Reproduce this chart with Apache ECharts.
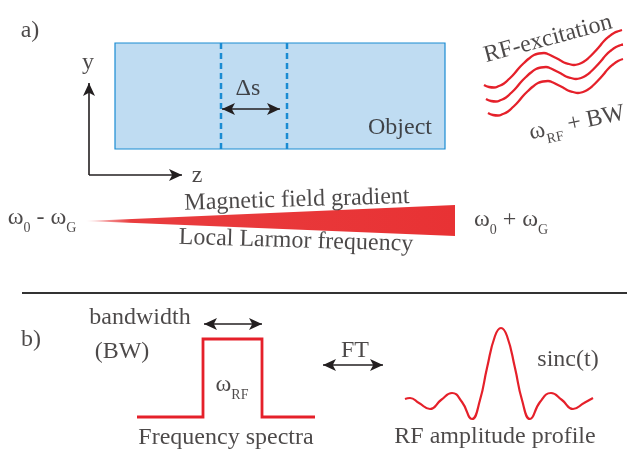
<!DOCTYPE html>
<html><head><meta charset="utf-8">
<script src="https://cdn.jsdelivr.net/npm/echarts@6/dist/echarts.min.js"></script>
<style>html,body{margin:0;padding:0;background:#fff}#c{width:627px;height:456px}</style>
</head><body><div id="c"></div>
<script>
// ---- diagram data (in the 627 x 456 drawing coordinate space) ----
const objectBox = [115, 43, 445, 149];
const sliceLeft = [[221, 43], [221, 149]];
const sliceRight = [[287, 43], [287, 149]];
const gradientWedge = [86, 221, 455, 205, 455, 236];
const waveTop = [[484,85],[489,87],[494,87.5],[499,86],[504,83.5],[509,79],[514,74],[519,68],[524,63],[529,58.5],[534,55],[539,53.5],[544,53],[549,54.5],[554,57],[559,59.5],[564,62.5],[569,64],[574,65],[579,64],[584,61.5],[589,57.5],[594,52.5],[599,47],[604,41],[609,36.5],[614,33],[619,31],[622,30]];
const waveMid = [[486,99],[491,101],[496,101.5],[501,100],[506,97.5],[511,93],[516,88],[521,82],[526,77],[531,72.5],[536,69],[541,67.5],[546,67],[551,68.5],[556,71],[561,73.5],[566,76.5],[571,78],[576,79],[581,78],[586,75.5],[591,71.5],[596,66.5],[601,61],[606,55],[611,50.5],[616,47],[621,45],[623,44.5]];
const waveBot = [[488,113],[493,115],[498,115.5],[503,114],[508,111.5],[513,107],[518,102],[523,96],[528,91],[533,86.5],[538,83],[543,81.5],[548,81],[553,82.5],[558,85],[563,87.5],[568,90.5],[573,92],[578,93],[583,92],[588,89.5],[593,85.5],[598,80.5],[603,75],[608,69],[613,64.5],[618,61],[623,59]];
const rectSpectrum = [[137,417],[203,417],[203,339],[262,339],[262,417],[315,417]];
const sincProfile = [[405,399],[410,398],[419,403],[430,409],[441,400],[452,393],[462,402],[472,419],[480,400],[487,368],[495,336],[501,328],[507,336],[515,368],[522,400],[530,419],[540,402],[551,393],[562,400],[573,409],[584,403],[593,398]];
const arrowLines = [
  {from:[89,175], to:[89,83], both:false},
  {from:[89,175], to:[182,175], both:false},
  {from:[222,109], to:[280,109], both:true},
  {from:[204,324], to:[262,324], both:true},
  {from:[323,365], to:[383,365], both:true}
];
const separator = [[22,293],[627,293]];
const labelTexts = ['a)','y','z','Δs','Object','RF-excitation','{m|ω}{s|RF}{m| + BW}','Magnetic field gradient','Local Larmor frequency','{m|ω}{s|0}{m| - ω}{s|G}','{m|ω}{s|0}{m| + ω}{s|G}','b)','bandwidth','(BW)','{m|ω}{s|RF}','Frequency spectra','FT','sinc(t)','RF amplitude profile'];
const labelX = [30, 88, 197, 248, 400, 548, 577, 297, 296, 42, 511, 31, 140, 122, 232, 226, 355, 568, 495];
const labelY = [31, 63, 176, 89, 128, 39, 123, 200, 241, 218, 220, 340, 318, 352, 385, 438, 351, 360, 437];
const labelRotate = [0,0,0,0,0,15,12,1.7,-1.7,0,0,0,0,0,0,0,0,0,0];

// ---- styling ----
const FONT = '"Liberation Serif", "Times New Roman", serif';
const TXT = '#1f1b1c';
const RED = '#e5202a';
const BLUE = '#1a8bd2';

const rich = {
  m: {fontSize: 24, lineHeight: 24, verticalAlign: 'top', fontFamily: FONT, color: TXT},
  s: {fontSize: 14, lineHeight: 14, padding: [15,0,0,0], verticalAlign: 'top', fontFamily: FONT, color: TXT}
};

const chart = echarts.init(document.getElementById('c'), null, {renderer: 'canvas'});

function lineSeries(data, extra) {
  return Object.assign({
    type: 'line', data: data, symbol: 'none', silent: true, animation: false,
    lineStyle: {color: RED, width: 2.5}
  }, extra || {});
}

const markData = arrowLines.map(a => [
  {coord: a.from, symbol: a.both ? 'arrow' : 'none', symbolSize: [9, 13]},
  {coord: a.to, symbol: 'arrow', symbolSize: [9, 13]}
]);
markData.push([
  {coord: separator[0], symbol: 'none', lineStyle: {width: 2, color: '#333'}},
  {coord: separator[1], symbol: 'none'}
]);

const option = {
  animation: false,
  backgroundColor: '#fff',
  grid: {left: 0, right: 0, top: 0, bottom: 0},
  xAxis: {type: 'value', min: 0, max: 627, show: false},
  yAxis: {type: 'value', min: 0, max: 456, inverse: true, show: false},
  series: [
    {
      type: 'custom', silent: true, clip: false,
      data: [objectBox],
      renderItem: function (params, api) {
        const p1 = api.coord([api.value(0), api.value(1)]);
        const p2 = api.coord([api.value(2), api.value(3)]);
        return {type: 'rect', shape: {x: p1[0], y: p1[1], width: p2[0]-p1[0], height: p2[1]-p1[1]},
          style: {fill: '#bfdcf2', stroke: BLUE, lineWidth: 1.2}};
      }
    },
    lineSeries(sliceLeft, {lineStyle: {color: BLUE, width: 2.5, type: [6, 4]}}),
    lineSeries(sliceRight, {lineStyle: {color: BLUE, width: 2.5, type: [6, 4]}}),
    {
      type: 'custom', silent: true, clip: false,
      data: [gradientWedge],
      renderItem: function (params, api) {
        const pts = [];
        for (let i = 0; i < 3; i++) pts.push(api.coord([api.value(2*i), api.value(2*i+1)]));
        return {type: 'polygon', shape: {points: pts},
          style: {fill: new echarts.graphic.LinearGradient(0, 0, 1, 0, [
            {offset: 0, color: 'rgba(232,50,52,0.15)'},
            {offset: 0.12, color: 'rgba(232,50,52,0.95)'},
            {offset: 1, color: '#e83234'}
          ])}};
      }
    },
    lineSeries(waveTop, {smooth: true, lineStyle: {color: RED, width: 2.3}}),
    lineSeries(waveMid, {smooth: true, lineStyle: {color: RED, width: 2.3}}),
    lineSeries(waveBot, {smooth: true, lineStyle: {color: RED, width: 2.3}}),
    lineSeries(rectSpectrum, {lineStyle: {color: RED, width: 2.8, join: 'miter'}}),
    lineSeries(sincProfile, {smooth: true, lineStyle: {color: RED, width: 2.2}}),
    {
      type: 'line', data: [], silent: true,
      markLine: {
        silent: true, animation: false,
        label: {show: false},
        lineStyle: {color: '#231f20', width: 1.6, type: 'solid'},
        emphasis: {disabled: true},
        data: markData
      }
    },
    {
      type: 'scatter', silent: true, symbolSize: 1,
      itemStyle: {color: 'rgba(0,0,0,0)'},
      data: labelTexts.map((t, i) => ({
        value: [labelX[i], labelY[i]],
        label: {show: true, position: 'inside', formatter: t, rotate: labelRotate[i],
          fontFamily: FONT, fontSize: 24, color: TXT, align: 'center', verticalAlign: 'middle', rich: rich}
      }))
    }
  ]
};
chart.setOption(option);
</script>
</body></html>
